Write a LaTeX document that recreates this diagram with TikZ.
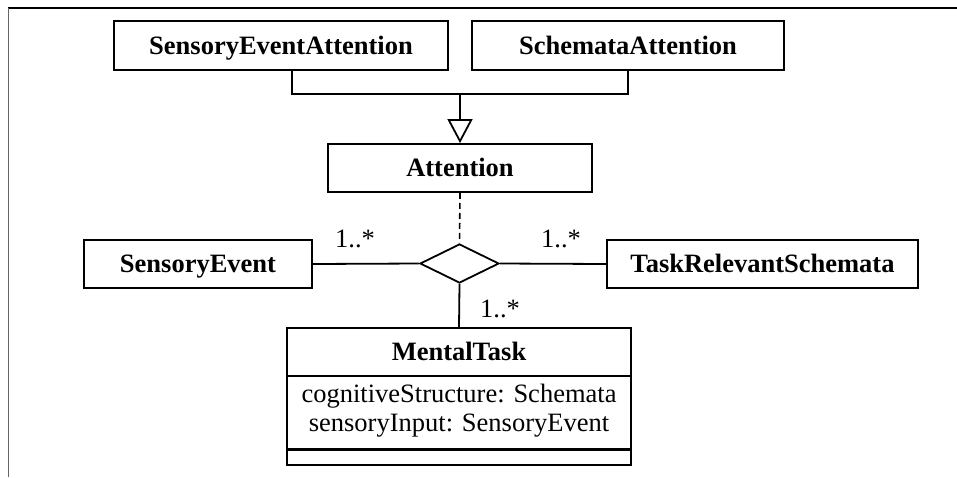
\documentclass[tikz,border=0pt]{standalone}
\usepackage{fontspec}
\setmainfont{Liberation Serif}
\usetikzlibrary{arrows.meta,shapes.geometric}
\begin{document}
\begin{tikzpicture}[x=1pt,y=-1pt,
  cls/.style={draw, line width=1.8pt, rectangle, inner sep=0pt, text height=17pt, text depth=0pt, font=\fontsize{26.5}{30}\selectfont\bfseries},
  comp/.style={draw, line width=1.8pt, rectangle, inner sep=0pt},
  lbl/.style={inner sep=0pt, font=\fontsize{26.5}{30}\selectfont},
  conn/.style={line width=1.8pt},
  frame/.style={line width=1.6pt}]
\useasboundingbox (0,0) rectangle (957,477);
% frame
\draw[frame, black] (8,8) -- (957,8);
\draw[frame, gray!80!black] (8.5,8) -- (8.5,477);
% classes
\node[cls, minimum width=334, minimum height=49] (sea) at (281,45.5) {SensoryEventAttention};
\node[cls, minimum width=312, minimum height=49] (sa) at (628,45.5) {SchemataAttention};
\node[cls, minimum width=264, minimum height=48] (att) at (460,168) {Attention};
\node[cls, minimum width=228, minimum height=48] (se) at (198,264) {SensoryEvent};
\node[cls, minimum width=311, minimum height=48] (trs) at (762.5,264) {TaskRelevantSchemata};
\node[draw, line width=1.8pt, diamond, inner sep=0pt, minimum width=79, minimum height=39] (dia) at (459.5,263.5) {};
% MentalTask
\node[cls, minimum width=344, minimum height=48] (mtname) at (459,352) {MentalTask};
\node[comp, minimum width=344, minimum height=74] (mtattr) at (459,413) {};
\node[comp, minimum width=344, minimum height=15] (mtops) at (459,457.5) {};
\draw[line width=3pt] (mtops.north west) -- (mtops.north east);
\node[lbl, anchor=base] (attr1) at (459,402) {cognitiveStructure: Schemata};
\node[lbl, anchor=base] (attr2) at (459,431) {sensoryInput: SensoryEvent};
% generalization
\coordinate (jl) at (292,94);
\coordinate (jr) at (628,94);
\coordinate (j) at (460,94);
\draw[conn] (sea.south -| jl) -- (jl) -- (jr) -- (sa.south);
\draw[conn, -{Triangle[open, length=24pt, width=25pt, line width=1.8pt]}] (j) -- (att.north);
% association
\draw[conn, dashed, dash pattern=on 6pt off 4pt, line width=1.6pt] (att.south) -- (dia.north);
\draw[conn] (se.east) -- (dia.west);
\draw[conn] (dia.east) -- (trs.west);
\draw[conn] (dia.south) -- (mtname.north);
\node[lbl, anchor=base west] (m1) at (335,247) {1..*};
\node[lbl, anchor=base west] (m2) at (541,247) {1..*};
\node[lbl, anchor=base west] (m3) at (480,317) {1..*};
\end{tikzpicture}
\end{document}
